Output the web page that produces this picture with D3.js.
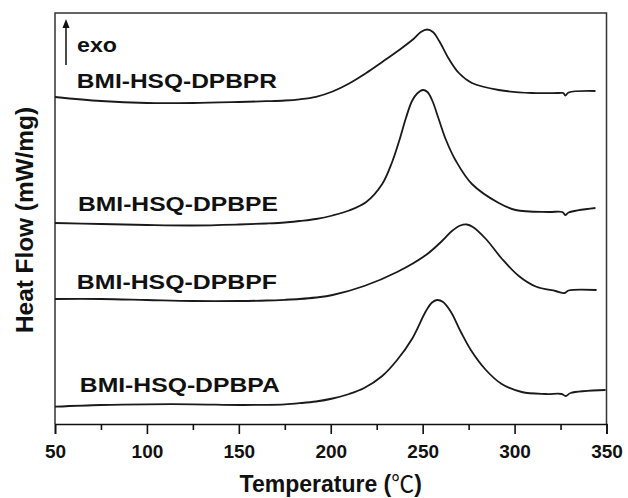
<!DOCTYPE html>
<html>
<head>
<meta charset="utf-8">
<script src="https://cdn.jsdelivr.net/npm/d3@7"></script>
<style>
  body { margin: 0; background: #fff; }
  text { font-family: "Liberation Sans", Arial, "DejaVu Sans", sans-serif; font-weight: bold; fill: #111; }
</style>
</head>
<body>
<div id="chart"></div>
<script>
(function(){
// temperature (°C) and heat flow (arbitrary, stacked) for each sample
const tempR = [50, 75, 100, 125, 150, 165, 175, 183, 192, 201, 210, 219.3, 228, 237.2, 245, 249, 252.4, 255.6, 259, 264.3, 269.7, 276.8, 291.4, 309.3, 324, 326.5, 327.6, 329.4, 344];
const flowR = [32.7, 32.3, 32.1, 32.1, 32.2, 32.28, 32.35, 32.47, 32.72, 33.25, 34.05, 35.1, 36.2, 37.4, 38.5, 39.2, 39.45, 39.2, 38.3, 36.5, 35.1, 34.1, 33.4, 33.1, 33.1, 33.1, 32.85, 33.15, 33.3];

const tempE = [50, 75, 100, 125, 150, 165, 175, 183, 192, 201, 210, 219.3, 228, 233.4, 237.2, 240.9, 244.2, 247, 250.2, 252.6, 255.1, 258.9, 262.7, 268.1, 276.8, 291.4, 300.6, 318.5, 326, 327.6, 329.4, 344];
const flowE = [20.1, 20.0, 19.9, 19.85, 19.95, 20.05, 20.15, 20.3, 20.5, 20.85, 21.35, 22.2, 24.0, 26.2, 28.3, 30.6, 32.3, 33.05, 33.4, 33.2, 32.4, 30.4, 28.4, 26.3, 24.0, 22.1, 21.4, 21.2, 21.2, 20.9, 21.15, 21.6];

const tempF = [50, 75, 100, 125, 150, 165, 175, 183, 192, 201, 218.2, 236.1, 251.8, 260.5, 265.9, 270.5, 274, 277.3, 284.4, 293.2, 302.3, 311.5, 322.3, 327.2, 329.4, 344.6];
const flowF = [12.5, 12.5, 12.4, 12.3, 12.3, 12.35, 12.42, 12.5, 12.65, 12.9, 13.8, 15.2, 16.9, 18.3, 19.3, 19.85, 19.95, 19.7, 18.5, 16.5, 14.8, 13.75, 13.3, 13.1, 13.35, 13.4];

const tempA = [50, 75, 100, 125, 150, 165, 175, 183, 192, 201, 210, 218.2, 228, 236.1, 244.2, 251.8, 255.1, 257.8, 261.1, 265.4, 270.8, 276.2, 284.4, 293, 303.9, 317, 325.6, 327.8, 330.5, 349.5];
const flowA = [1.73, 1.9, 1.97, 1.97, 1.9, 1.92, 1.97, 2.08, 2.25, 2.55, 3.0, 3.6, 4.8, 6.4, 8.5, 11.3, 12.15, 12.4, 12.2, 11.2, 9.2, 7.4, 5.4, 4.0, 3.2, 3.0, 3.0, 2.8, 3.1, 3.4];

const seriesNames = ['BMI-HSQ-DPBPR', 'BMI-HSQ-DPBPE', 'BMI-HSQ-DPBPF', 'BMI-HSQ-DPBPA'];
const labelTemp = [61.9, 62.5, 61.9, 63.5];
const labelFlow = [33.6, 21.3, 13.5, 3.25];

const xTicks = [50, 100, 150, 200, 250, 300, 350];
const xMinorTicks = [75, 125, 175, 225, 275, 325];

const width = 628, height = 498;
const margin = { top: 13, right: 21, bottom: 74, left: 55 };

const svg = d3.select('#chart')
    .append('svg')
    .attr('width', width)
    .attr('height', height);

const xScale = d3.scaleLinear()
    .domain([50, 350])
    .range([margin.left, width - margin.right - 0.5]);

const yScale = d3.scaleLinear()
    .domain([0, 41.1])
    .range([height - margin.bottom, margin.top]);

const bottom = height - margin.bottom;

// frame (left, top, right)
svg.append('path')
    .attr('d', `M${margin.left},${bottom}V${margin.top}H${xScale(350)}V${bottom}`)
    .attr('fill', 'none')
    .attr('stroke', '#333')
    .attr('stroke-width', 1.5);

// x axis with outward ticks
const xAxis = d3.axisBottom(xScale)
    .tickValues(xTicks)
    .tickSize(10)
    .tickPadding(11)
    .tickFormat(d3.format('d'));

const gx = svg.append('g')
    .attr('transform', `translate(0,${bottom})`)
    .call(xAxis);
gx.select('.domain').attr('stroke', '#111').attr('stroke-width', 1.6);
gx.selectAll('.tick line').attr('stroke', '#111').attr('stroke-width', 1.6);
gx.selectAll('.tick text')
    .style('font-size', '19px')
    .style('font-family', '"Liberation Sans", Arial, sans-serif')
    .style('font-weight', 'bold')
    .attr('fill', '#111');

svg.append('g')
    .attr('transform', `translate(0,${bottom})`)
    .call(d3.axisBottom(xScale).tickValues(xMinorTicks).tickSize(6).tickFormat(''))
    .call(g => g.select('.domain').remove())
    .selectAll('.tick line').attr('stroke', '#111').attr('stroke-width', 1.6);

// axis titles
const xTitle = svg.append('text')
    .attr('x', (xScale(50) + xScale(350)) / 2)
    .attr('y', 492)
    .attr('text-anchor', 'middle')
    .style('font-size', '23px');
xTitle.append('tspan').text('Temperature (');
xTitle.append('tspan')
    .style('font-family', '"Noto Sans CJK SC", "DejaVu Sans", sans-serif')
    .style('font-weight', 'normal')
    .text('\u2103');
xTitle.append('tspan').text(')');

svg.append('text')
    .attr('transform', 'rotate(-90)')
    .attr('x', -(107 + 333) / 2)
    .attr('y', 33)
    .attr('text-anchor', 'middle')
    .style('font-size', '23px')
    .attr('textLength', 226)
    .attr('lengthAdjust', 'spacingAndGlyphs')
    .text('Heat Flow (mW/mg)');

// curves
const curves = [
    { t: tempR, v: flowR },
    { t: tempE, v: flowE },
    { t: tempF, v: flowF },
    { t: tempA, v: flowA }
];

const line = d3.line()
    .x(d => xScale(d[0]))
    .y(d => yScale(d[1]))
    .curve(d3.curveCatmullRom.alpha(0.5));

curves.forEach(c => {
    svg.append('path')
        .datum(d3.zip(c.t, c.v))
        .attr('fill', 'none')
        .attr('stroke', '#1a1a1a')
        .attr('stroke-width', 1.8)
        .attr('d', line);
});

// sample labels
seriesNames.forEach((name, i) => {
    svg.append('text')
        .attr('x', xScale(labelTemp[i]))
        .attr('y', yScale(labelFlow[i]))
        .style('font-size', '21px')
        .attr('textLength', 200)
        .attr('lengthAdjust', 'spacingAndGlyphs')
        .text(name);
});

// exo arrow
svg.append('line')
    .attr('x1', 66).attr('y1', 65)
    .attr('x2', 66).attr('y2', 26)
    .attr('stroke', '#111')
    .attr('stroke-width', 1.5);
svg.append('path')
    .attr('d', 'M66,19L62.5,28L69.5,28Z')
    .attr('fill', '#111');

svg.append('text')
    .attr('x', 77)
    .attr('y', 52)
    .style('font-size', '21px')
    .attr('textLength', 40)
    .attr('lengthAdjust', 'spacingAndGlyphs')
    .text('exo');
})();
</script>
</body>
</html>
